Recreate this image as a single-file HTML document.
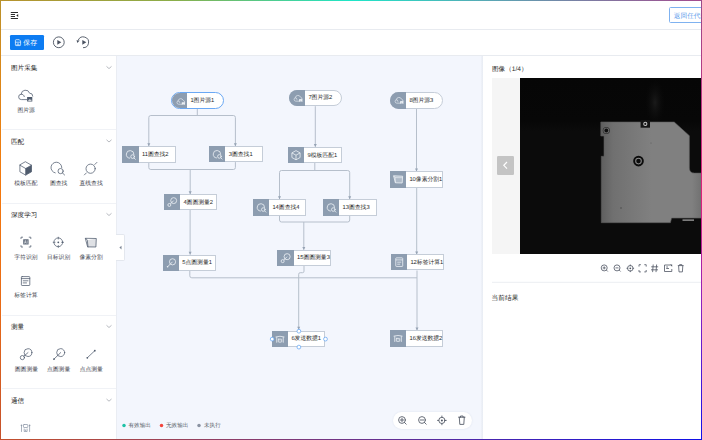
<!DOCTYPE html>
<html><head><meta charset="utf-8">
<style>
*{margin:0;padding:0;box-sizing:border-box}
html,body{width:702px;height:440px;overflow:hidden;background:#fff}
body{position:relative;font-family:"Liberation Sans",sans-serif;color:#333;text-rendering:geometricPrecision}
.a{position:absolute}
.t{position:absolute;white-space:nowrap;line-height:1}
svg{position:absolute;overflow:visible}
.bt{left:0;top:0;width:702px;height:1px;background:linear-gradient(90deg,#b8922c 0%,#8aae4a 25%,#1ee6c8 50%,#5aa6b4 70%,#a44a8e 100%)}
.bb{left:0;top:439px;width:702px;height:1px;background:linear-gradient(90deg,#c4502c 0%,#8a3c6c 35%,#5a2c9c 60%,#1010e8 100%)}
.bl{left:0;top:0;width:1px;height:440px;background:linear-gradient(180deg,#b8922c 0%,#d48a1c 12%,#f57a0c 40%,#e86a16 70%,#c4502c 100%)}
.br{left:701px;top:0;width:1px;height:440px;background:linear-gradient(180deg,#9a4a8a 0%,#e0207a 45%,#8a20c0 70%,#1010e8 100%)}
.hline{height:1px;background:#e8ebf0}
.sec{font-size:6.6px;color:#222}
.lbl{font-size:5.8px;color:#3c424c}
.chev{width:4px;height:4px;border-right:0.8px solid #8a8f99;border-bottom:0.8px solid #8a8f99;transform:rotate(45deg)}
.node{position:absolute;height:16.5px;background:#fff;border:1px solid #c5cdd8}
.node .ic{position:absolute;left:-1px;top:-1px;bottom:-1px;width:16.5px;background:#8d9db0}
.node .tx{position:absolute;left:20px;top:0.8px;line-height:14.5px;font-size:5.8px;color:#1f1f1f;white-space:nowrap;}
.pill{border-radius:9px}
.pill .ic{border-radius:9px 0 0 9px}
.sel{border-color:#6aa8f4}
.sel .ic{left:0;top:0;bottom:0}
.node .ic svg{position:absolute}
</style></head><body>
<!-- header -->
<div class="a hline" style="left:0;top:29px;width:702px"></div>
<div class="a hline" style="left:0;top:55px;width:702px"></div>
<!-- sidebar -->
<div class="a" style="left:0;top:56px;width:116px;height:384px;background:#fff"></div>
<!-- canvas -->
<div class="a" style="left:116px;top:56px;width:367px;height:384px;background:#f3f6fd"></div>
<div class="a" style="left:116px;top:56px;width:1px;height:384px;background:#eaedf3"></div>
<div class="a" style="left:481px;top:56px;width:2px;height:384px;background:linear-gradient(90deg,#eff2f9,#e8ecf3)"></div>
<!-- right panel -->
<div class="a" style="left:483px;top:56px;width:219px;height:384px;background:#fff"></div>



<!-- sidebar content -->
<div class="t sec" style="left:11px;top:66.0px">图片采集</div>
<div class="t sec" style="left:11px;top:140.0px">匹配</div>
<div class="t sec" style="left:11px;top:212.8px">深度学习</div>
<div class="t sec" style="left:11px;top:324.8px">测量</div>
<div class="t sec" style="left:11px;top:398.5px">通信</div>
<svg class="a" style="left:0;top:0" width="120" height="440">
 <g fill="none" stroke="#8f949d" stroke-width="0.65">
  <path d="M106.5 66.4 L109 68.6 L111.5 66.4"/>
  <path d="M106.5 139.8 L109 142.0 L111.5 139.8"/>
  <path d="M106.5 213.3 L109 215.5 L111.5 213.3"/>
  <path d="M106.5 325.3 L109 327.5 L111.5 325.3"/>
  <path d="M106.5 399.0 L109 401.2 L111.5 399.0"/>
 </g>
 <g stroke="#f0f2f6" stroke-width="1">
  <line x1="2" y1="129.5" x2="116" y2="129.5"/>
  <line x1="2" y1="203.5" x2="116" y2="203.5"/>
  <line x1="2" y1="315.5" x2="116" y2="315.5"/>
  <line x1="2" y1="388.5" x2="116" y2="388.5"/>
 </g>
</svg>
<div class="t lbl" style="left:17.5px;top:108.6px">图片源</div>
<div class="t lbl" style="left:14.3px;top:181.8px">模板匹配</div>
<div class="t lbl" style="left:50px;top:181.8px">圆查找</div>
<div class="t lbl" style="left:79.5px;top:181.8px">直线查找</div>
<div class="t lbl" style="left:14.3px;top:256.0px">字符识别</div>
<div class="t lbl" style="left:47px;top:256.0px">目标识别</div>
<div class="t lbl" style="left:79.5px;top:256.0px">像素分割</div>
<div class="t lbl" style="left:14.3px;top:294.2px">标签计算</div>
<div class="t lbl" style="left:14.8px;top:367.5px">圆圆测量</div>
<div class="t lbl" style="left:47px;top:367.5px">点圆测量</div>
<div class="t lbl" style="left:79.7px;top:367.5px">点点测量</div>


<!-- sidebar icons -->
<svg class="a" style="left:0;top:0" width="120" height="440">
 <g fill="none" stroke="#4f5b6d" stroke-width="0.75" stroke-linejoin="round" stroke-linecap="round">
  <!-- cloud -->
  <path d="M26.8 99.6 H21.5 A2.7 2.7 0 0 1 21.2 94.2 A4.3 4.3 0 0 1 29.6 93.2 A3 3 0 0 1 32.8 96.2"/>
  <path d="M21.2 94.2 A2.6 2.6 0 0 1 24.3 96.6"/>
  <!-- cube -->
  <path d="M25.7 161.9 L31.5 165.2 L31.5 171.8 L25.7 175.1 L19.9 171.8 L19.9 165.2 Z"/>
  <path d="M19.9 165.2 L25.7 168.5 L31.5 165.2 M25.7 168.5 L25.7 175.1"/>
  <!-- circle find -->
  <path d="M55.2 172.9 A5.4 5.4 0 1 1 61.8 167.6"/>
  <circle cx="60.6" cy="171.1" r="2.6"/>
  <line x1="62.4" y1="172.9" x2="64.6" y2="175"/>
  <!-- line find -->
  <circle cx="90.6" cy="168.7" r="4.6"/>
  <line x1="84.4" y1="174.9" x2="86.4" y2="172.9"/>
  <line x1="94.8" y1="164.5" x2="96.9" y2="162.4"/>
  <!-- 字符识别 -->
  <path d="M21 238.6 V237.2 H22.6 M29.2 237.2 H30.8 V238.6 M30.8 245.6 V247 H29.2 M22.6 247 H21 V245.6"/>
  <!-- 目标识别 -->
  <circle cx="58.3" cy="242.3" r="4.4"/>
  <line x1="58.3" y1="237.2" x2="58.3" y2="239"/>
  <line x1="58.3" y1="245.6" x2="58.3" y2="247.4"/>
  <line x1="53.2" y1="242.3" x2="55" y2="242.3"/>
  <line x1="61.6" y1="242.3" x2="63.4" y2="242.3"/>
  <!-- 像素分割 -->
  <path d="M85.7 238.3 L96.3 238.5 L95.9 247 L88 246.9 Z M85.7 238.3 L87.3 240.2 L88 246.9"/>
  <!-- 标签计算 -->
  <rect x="21.4" y="276.6" width="8.4" height="8.9" rx="0.7"/>
  <line x1="21.4" y1="278.6" x2="29.8" y2="278.6"/>
  <line x1="23.2" y1="280.8" x2="28" y2="280.8"/>
  <line x1="23.2" y1="282.9" x2="26.5" y2="282.9"/>
  <!-- 圆圆测量 -->
  <circle cx="28" cy="352.6" r="3.9"/>
  <circle cx="22.4" cy="357.6" r="2.1"/>
  <line x1="23.8" y1="356.2" x2="28" y2="352.6"/>
  <!-- 点圆测量 -->
  <circle cx="60.7" cy="352.6" r="4"/>
  <line x1="54" y1="359.1" x2="60.7" y2="352.6"/>
  <!-- 点点测量 -->
  <line x1="87.3" y1="357.8" x2="94.8" y2="350.7"/>
 </g>
 <g fill="#4f5b6d">
  <rect x="27.1" y="96.9" width="5.2" height="4.7" rx="0.3"/>
  <path d="M25.7 168.5 L31.5 165.2 L31.5 171.8 L25.7 175.1 Z"/>
  <rect x="23.2" y="239.3" width="5.4" height="5.2" rx="0.3" fill-opacity="0.9"/>
  <path d="M24.4 243.6 L25.3 240.4 L26.2 243.6 M24.8 242.5 H25.9 M27.2 240.4 V243.6" stroke="#fff" stroke-width="0.5" fill="none"/>
  <path d="M87.3 240.2 L96.3 238.5 L95.9 247 L88 246.9 Z" fill-opacity="0.18"/>
  <circle cx="58.3" cy="242.3" r="0.9"/>
  <circle cx="54" cy="359.1" r="0.9"/>
  <circle cx="87.3" cy="357.8" r="0.9"/>
  <circle cx="94.8" cy="350.7" r="0.9"/>
 </g>
 <g fill="#fff">
  <path d="M28 100.8 L29.3 99.2 L30.2 100 L31 99.3 L31.6 100.8 Z"/>
 </g>
 <!-- 通信 icon -->
 <g fill="none" stroke="#8e98a8" stroke-width="0.75" stroke-linecap="round">
  <path d="M21.5 425.6 V431.5 M29.6 425.6 V431.5"/>
  <rect x="23.5" y="424.5" width="4.3" height="3" rx="0.6"/>
  <path d="M24.2 429 V431.5 H27.1 V429"/>
 </g>
 <g fill="#8e98a8"><circle cx="21.5" cy="425.4" r="0.8"/><circle cx="29.6" cy="425.4" r="0.8"/><circle cx="25.6" cy="430.2" r="0.6"/></g>
</svg>


<svg width="0" height="0" style="position:absolute">
 <defs>
  <symbol id="i-cloud" viewBox="0 0 16 16">
   <g fill="none" stroke="#e4e9ef" stroke-width="0.7" stroke-linecap="round">
    <path d="M9.9 10.9 H6.7 A1.75 1.75 0 0 1 6.3 7.5 A2.7 2.7 0 0 1 11.5 6.9 A1.9 1.9 0 0 1 13.1 8.8"/>
    <path d="M6.3 7.5 A1.6 1.6 0 0 1 8 9.1"/>
   </g>
   <rect x="10.1" y="8.9" width="3.3" height="2.7" fill="#eef2f6"/>
   <path d="M10.5 11.3 L11.4 10.3 L12.1 10.9 L12.6 10.4 L13 11.3 Z" fill="#8d9db0"/>
  </symbol>
  <symbol id="i-cfind" viewBox="0 0 16 16">
   <g fill="none" stroke="#eef2f6" stroke-width="0.8" stroke-linecap="round">
    <path d="M7.4 11.8 A3.7 3.7 0 1 1 11.6 8.2"/>
    <circle cx="10.3" cy="10.3" r="1.8"/>
    <line x1="11.6" y1="11.6" x2="12.9" y2="12.9"/>
   </g>
  </symbol>
  <symbol id="i-cube" viewBox="0 0 16 16">
   <g fill="none" stroke="#eef2f6" stroke-width="0.8" stroke-linejoin="round">
    <path d="M8 3.6 L12.1 5.9 L12.1 10.5 L8 12.8 L3.9 10.5 L3.9 5.9 Z"/>
    <path d="M3.9 5.9 L8 8.2 L12.1 5.9 M8 8.2 L8 12.8"/>
   </g>
  </symbol>
  <symbol id="i-seg" viewBox="0 0 16 16">
   <path d="M3.6 4.6 L12.6 5 L12.2 11.8 L5.4 11.6 Z" fill="#eef2f6" fill-opacity="0.35" stroke="#eef2f6" stroke-width="0.8" stroke-linejoin="round"/>
   <path d="M3.6 4.6 L5.2 6.4 L5.4 11.6 M5.2 6.4 L12.5 6.5" fill="none" stroke="#eef2f6" stroke-width="0.6"/>
  </symbol>
  <symbol id="i-cc" viewBox="0 0 16 16">
   <g fill="none" stroke="#eef2f6" stroke-width="0.8">
    <circle cx="9.8" cy="6.6" r="3"/>
    <circle cx="5.4" cy="11" r="1.5"/>
    <line x1="6.5" y1="9.9" x2="9.8" y2="6.6"/>
   </g>
  </symbol>
  <symbol id="i-pc" viewBox="0 0 16 16">
   <g fill="none" stroke="#eef2f6" stroke-width="0.8">
    <circle cx="9.6" cy="6.7" r="3.1"/>
    <line x1="4.6" y1="11.7" x2="9.6" y2="6.7"/>
   </g>
   <circle cx="4.6" cy="11.7" r="0.8" fill="#eef2f6"/>
  </symbol>
  <symbol id="i-doc" viewBox="0 0 16 16">
   <g fill="none" stroke="#eef2f6" stroke-width="0.8">
    <rect x="4.6" y="3.8" width="6.8" height="8.4" rx="0.6"/>
    <line x1="4.6" y1="5.8" x2="11.4" y2="5.8"/>
    <line x1="6" y1="8" x2="10" y2="8"/>
    <line x1="6" y1="10" x2="9" y2="10"/>
   </g>
  </symbol>
  <symbol id="i-send" viewBox="0 0 16 16">
   <g fill="none" stroke="#eef2f6" stroke-width="0.8" stroke-linecap="round">
    <path d="M4.8 6.4 V11.4 M11.4 6.4 V11.4 M4 5.9 Q8.1 4.6 12.2 5.9"/>
    <rect x="6.4" y="8.2" width="3.4" height="3" rx="0.4"/>
   </g>
   <circle cx="8.1" cy="9.7" r="0.5" fill="#eef2f6"/>
  </symbol>
 </defs>
</svg>

<!-- edges -->
<svg class="a" style="left:0;top:0" width="702" height="440">
 <g fill="none" stroke="#b6bfcb" stroke-width="1">
  <path d="M197.3 109 V115.5 M148.8 146 V117.5 Q148.8 115.5 150.8 115.5 H233.4 Q235.4 115.5 235.4 117.5 V146"/>
  <path d="M148.8 162.7 V167.5 Q148.8 169.5 150.8 169.5 H233.4 Q235.4 169.5 235.4 167.5 V162.1 M190.2 169.5 V194"/>
  <path d="M190.1 210 V254.5"/>
  <path d="M189.8 270.7 V275.8 Q189.8 277.8 191.8 277.8 H417"/>
  <path d="M315.3 106.2 V146.8"/>
  <path d="M314.8 162.8 V170.5 M279.5 199 V172.5 Q279.5 170.5 281.5 170.5 H347.7 Q349.7 170.5 349.7 172.5 V199"/>
  <path d="M279.5 215.5 V220 Q279.5 222 281.5 222 H347.7 Q349.7 222 349.7 220 V215.5 M303.8 222 V249.7"/>
  <path d="M304 266 V271.2 Q304 272.7 302.5 272.7 H300.2 Q298.7 272.7 298.7 274.2 V331"/>
  <path d="M416.5 108.5 V171.2 M416.7 187.6 V254.2 M417 270.5 V330.3"/>
 </g>
 <g fill="#96a3b4">
  <path d="M147.3 143.2 H150.3 L148.8 146.2 Z"/>
  <path d="M233.9 143.2 H236.9 L235.4 146.2 Z"/>
  <path d="M188.7 191.2 H191.7 L190.2 194.2 Z"/>
  <path d="M188.6 251.7 H191.6 L190.1 254.7 Z"/>
  <path d="M313.8 144 H316.8 L315.3 147 Z"/>
  <path d="M278 196.2 H281 L279.5 199.2 Z"/>
  <path d="M348.2 196.2 H351.2 L349.7 199.2 Z"/>
  <path d="M302.3 246.9 H305.3 L303.8 249.9 Z"/>
  <path d="M297.2 326.8 H300.2 L298.7 329.8 Z"/>
  <path d="M415 168.4 H418 L416.5 171.4 Z"/>
  <path d="M415.2 251.4 H418.2 L416.7 254.4 Z"/>
  <path d="M415.5 327.5 H418.5 L417 330.5 Z"/>
 </g>
</svg>
<!-- nodes -->
<div class="node pill sel" style="left:170.5px;top:92.2px;width:53.7px;height:16.8px"><div class="ic" style="width:15.5px"><svg width="15.5" height="16.8" viewBox="0 0 16 16" preserveAspectRatio="xMidYMid meet" style="left:0;top:0"><use href="#i-cloud"/></svg></div><div class="tx" style="left:18.9px;line-height:14.8px">1图片源1</div></div>
<div class="node pill" style="left:289px;top:89.7px;width:53px;height:16.5px"><div class="ic" style="width:16px"><svg width="16" height="16.5" viewBox="0 0 16 16" preserveAspectRatio="xMidYMid meet" style="left:0;top:0"><use href="#i-cloud"/></svg></div><div class="tx" style="left:18.4px;line-height:14.5px">7图片源2</div></div>
<div class="node pill" style="left:390px;top:92px;width:53.2px;height:16.5px"><div class="ic" style="width:16px"><svg width="16" height="16.5" viewBox="0 0 16 16" preserveAspectRatio="xMidYMid meet" style="left:0;top:0"><use href="#i-cloud"/></svg></div><div class="tx" style="left:18.4px;line-height:14.5px">8图片源3</div></div>
<div class="node" style="left:122px;top:146.2px;width:53.8px;height:16.5px"><div class="ic" style="width:16.5px"><svg width="16.5" height="16.5" viewBox="0 0 16 16" preserveAspectRatio="xMidYMid meet" style="left:0;top:0"><use href="#i-cfind"/></svg></div><div class="tx" style="left:18.9px;line-height:14.5px">11圆查找2</div></div>
<div class="node" style="left:209.2px;top:146.2px;width:53.4px;height:16.2px"><div class="ic" style="width:16.2px"><svg width="16.2" height="16.2" viewBox="0 0 16 16" preserveAspectRatio="xMidYMid meet" style="left:0;top:0"><use href="#i-cfind"/></svg></div><div class="tx" style="left:18.6px;line-height:14.2px">3圆查找1</div></div>
<div class="node" style="left:288.2px;top:146.8px;width:53.7px;height:16px"><div class="ic" style="width:16px"><svg width="16" height="16" viewBox="0 0 16 16" preserveAspectRatio="xMidYMid meet" style="left:0;top:0"><use href="#i-cube"/></svg></div><div class="tx" style="left:18.4px;line-height:14px">9模板匹配1</div></div>
<div class="node" style="left:390px;top:171.2px;width:53px;height:16.4px"><div class="ic" style="width:16px"><svg width="16" height="16.4" viewBox="0 0 16 16" preserveAspectRatio="xMidYMid meet" style="left:0;top:0"><use href="#i-seg"/></svg></div><div class="tx" style="left:18.4px;line-height:14.399999999999999px">10像素分割1</div></div>
<div class="node" style="left:164.2px;top:194.2px;width:53.1px;height:16px"><div class="ic" style="width:15.8px"><svg width="15.8" height="16" viewBox="0 0 16 16" preserveAspectRatio="xMidYMid meet" style="left:0;top:0"><use href="#i-cc"/></svg></div><div class="tx" style="left:18.2px;line-height:14px">4圆圆测量2</div></div>
<div class="node" style="left:253px;top:199px;width:52.8px;height:16.5px"><div class="ic" style="width:16px"><svg width="16" height="16.5" viewBox="0 0 16 16" preserveAspectRatio="xMidYMid meet" style="left:0;top:0"><use href="#i-cfind"/></svg></div><div class="tx" style="left:18.4px;line-height:14.5px">14圆查找4</div></div>
<div class="node" style="left:323.2px;top:199px;width:53.4px;height:16.5px"><div class="ic" style="width:16px"><svg width="16" height="16.5" viewBox="0 0 16 16" preserveAspectRatio="xMidYMid meet" style="left:0;top:0"><use href="#i-cfind"/></svg></div><div class="tx" style="left:18.4px;line-height:14.5px">13圆查找3</div></div>
<div class="node" style="left:277px;top:249.7px;width:53.6px;height:16.2px"><div class="ic" style="width:16.6px"><svg width="16.6" height="16.2" viewBox="0 0 16 16" preserveAspectRatio="xMidYMid meet" style="left:0;top:0"><use href="#i-cc"/></svg></div><div class="tx" style="left:19.0px;line-height:14.2px">15圆圆测量3</div></div>
<div class="node" style="left:390.5px;top:254.2px;width:53.1px;height:16.3px"><div class="ic" style="width:16.5px"><svg width="16.5" height="16.3" viewBox="0 0 16 16" preserveAspectRatio="xMidYMid meet" style="left:0;top:0"><use href="#i-doc"/></svg></div><div class="tx" style="left:18.9px;line-height:14.3px">12标签计算1</div></div>
<div class="node" style="left:163px;top:254.5px;width:53px;height:16.2px"><div class="ic" style="width:15.9px"><svg width="15.9" height="16.2" viewBox="0 0 16 16" preserveAspectRatio="xMidYMid meet" style="left:0;top:0"><use href="#i-pc"/></svg></div><div class="tx" style="left:18.3px;line-height:14.2px">5点圆测量1</div></div>
<div class="node" style="left:272.2px;top:331.2px;width:53.3px;height:15.9px"><div class="ic" style="width:15.8px"><svg width="15.8" height="15.9" viewBox="0 0 16 16" preserveAspectRatio="xMidYMid meet" style="left:0;top:0"><use href="#i-send"/></svg></div><div class="tx" style="left:18.2px;line-height:13.9px">6发送数据1</div></div>
<div class="node" style="left:390.2px;top:330.3px;width:52.8px;height:16.3px"><div class="ic" style="width:15.9px"><svg width="15.9" height="16.3" viewBox="0 0 16 16" preserveAspectRatio="xMidYMid meet" style="left:0;top:0"><use href="#i-send"/></svg></div><div class="tx" style="left:18.3px;line-height:14.3px">16发送数据2</div></div>

<!-- canvas extras -->
<div class="a" style="left:116px;top:234px;width:8.6px;height:27.2px;background:#fff;border:0.6px solid #e3e7ee;border-left:none;border-radius:0 2px 2px 0"></div>
<svg class="a" style="left:0;top:0" width="702" height="440">
 <path d="M121.5 245.8 L119.4 247.6 L121.5 249.4 Z" fill="#7a8494"/>
 <!-- handles node 6 -->
 <g fill="#fff" stroke="#5aa0f4" stroke-width="0.7">
  <circle cx="298.9" cy="331.2" r="1.9"/>
  <circle cx="298.9" cy="347.1" r="1.9"/>
  <circle cx="272.2" cy="339.1" r="1.9"/>
  <circle cx="325.5" cy="339.1" r="1.9"/>
 </g>
 <!-- legend dots -->
 <circle cx="124" cy="425.5" r="1.75" fill="#1ec2a6"/>
 <circle cx="161.5" cy="425.5" r="1.75" fill="#f2443c"/>
 <circle cx="199" cy="425.5" r="1.75" fill="#8a93a2"/>
</svg>
<div class="t" style="left:128.5px;top:423.7px;font-size:5.6px;color:#555c66">有效输出</div>
<div class="t" style="left:166px;top:423.7px;font-size:5.6px;color:#555c66">无效输出</div>
<div class="t" style="left:204px;top:423.7px;font-size:5.6px;color:#555c66">未执行</div>
<div class="a" style="left:393px;top:411.8px;width:78.7px;height:17.2px;background:#fff;border-radius:8.6px;box-shadow:0 0 2px rgba(60,80,120,0.12)"></div>
<svg class="a" style="left:0;top:0" width="702" height="440">
 <g fill="none" stroke="#4f5663" stroke-width="0.85" stroke-linecap="round">
  <circle cx="402" cy="420" r="3.4"/><line x1="404.5" y1="422.5" x2="406.2" y2="424.2"/><path d="M400.3 420 H403.7 M402 418.3 V421.7"/>
  <circle cx="422" cy="420" r="3.4"/><line x1="424.5" y1="422.5" x2="426.2" y2="424.2"/><path d="M420.3 420 H423.7"/>
  <circle cx="441.9" cy="420.4" r="3.1"/><path d="M441.9 416 V417.3 M441.9 423.5 V424.8 M437.5 420.4 H438.8 M445 420.4 H446.3"/>
  <path d="M458.6 417.2 H465 M460.5 417.2 V416 H463.1 V417.2 M459.3 417.2 L459.8 424.4 H463.8 L464.3 417.2"/>
 </g>
 <circle cx="441.9" cy="420.4" r="1" fill="#4f5663"/>
</svg>


<!-- right panel content -->
<div class="t" style="left:492px;top:67px;font-size:6.6px;color:#2a2a2a">图像（1/4）</div>
<div class="a" style="left:492px;top:77.5px;width:210px;height:176px;background:#f5f5f5"></div>
<div class="a" style="left:520px;top:77.5px;width:182px;height:176px;background:#0b0b0b;overflow:hidden">
 <svg width="182" height="176" viewBox="520 77.5 182 176" style="left:0;top:0">
  <defs>
   <linearGradient id="pg" x1="0" y1="0" x2="1" y2="0">
    <stop offset="0" stop-color="#5e5e5e"/>
    <stop offset="0.12" stop-color="#707070"/>
    <stop offset="0.5" stop-color="#808080"/>
    <stop offset="0.9" stop-color="#808080"/>
    <stop offset="1" stop-color="#707070"/>
   </linearGradient>
   <radialGradient id="glow"><stop offset="0" stop-color="#1a1a1a"/><stop offset="1" stop-color="#0a0a0a" stop-opacity="0"/></radialGradient>
   <linearGradient id="bg1" x1="0" y1="0" x2="0" y2="1">
    <stop offset="0" stop-color="#060606"/>
    <stop offset="0.25" stop-color="#070707"/>
    <stop offset="0.3" stop-color="#0b0b0b"/>
    <stop offset="1" stop-color="#0b0b0b"/>
   </linearGradient>
  </defs>
  <rect x="520" y="77.5" width="182" height="176" fill="url(#bg1)"/>
  <ellipse cx="655" cy="102" rx="10" ry="24" fill="url(#glow)"/>
  <path d="M600.8 121.5 H674.2 L689.4 135.2 V167.5 Q689.4 172.6 694.5 172.6 H702 V217.6 H671.6 L670.4 222.2 H601.3 V155.8 H604 V135.5 H600.8 Z" fill="url(#pg)" stroke="#5a5a5a" stroke-width="0.6"/>
  <rect x="640.6" y="119.6" width="9.4" height="7.6" fill="#141414"/>
  <circle cx="645.3" cy="123.4" r="2.1" fill="#c8c8c8"/>
  <circle cx="645.3" cy="123.4" r="1.1" fill="#1a1a1a"/>
  <circle cx="606.3" cy="130" r="3.6" fill="#333"/>
  <circle cx="606.3" cy="130" r="2.8" fill="#6e6e6e"/>
  <circle cx="606.3" cy="130" r="1.9" fill="#0e0e0e"/>
  <circle cx="638.5" cy="160.6" r="5.3" fill="#0c0c0c"/>
  <circle cx="638.5" cy="160.6" r="3.3" fill="#8a8a8a"/>
  <circle cx="638.5" cy="160.6" r="2.3" fill="#0c0c0c"/>
  <circle cx="621" cy="207.5" r="0.7" fill="#444"/>
  <circle cx="651" cy="142.5" r="0.5" fill="#555"/>
  <path d="M682.5 219.6 H694" stroke="#bbb" stroke-width="1.1" fill="none"/>
 </svg>
</div>
<div class="a" style="left:496.8px;top:156px;width:17px;height:18.7px;background:#c4c4c4;border-radius:1.2px"></div>
<svg class="a" style="left:0;top:0" width="702" height="440">
 <path d="M507 162 L503.8 165.3 L507 168.6" fill="none" stroke="#fff" stroke-width="1.2"/>
</svg>
<svg class="a" style="left:0;top:0" width="702" height="440">
 <g fill="none" stroke="#4f5663" stroke-width="0.8">
  <circle cx="604.2" cy="267.9" r="3"/><line x1="606.4" y1="270.1" x2="607.8" y2="271.5"/><path d="M602.7 267.9 H605.7 M604.2 266.4 V269.4"/>
  <circle cx="617" cy="267.9" r="3"/><line x1="619.2" y1="270.1" x2="620.6" y2="271.5"/><path d="M615.5 267.9 H618.5"/>
  <circle cx="630.3" cy="268.3" r="2.8"/><path d="M630.3 264.5 V266.3 M630.3 270.3 V272.1 M626.5 268.3 H628.3 M632.3 268.3 H634.1"/>
  <path d="M639 266.6 V264.7 H640.9 M644.3 264.7 H646.2 V266.6 M646.2 270 V271.9 H644.3 M640.9 271.9 H639 V270"/>
  <path d="M653.2 264.5 L652.6 272.1 M656.6 264.5 L656 272.1 M651.2 266.8 H658.2 M651 269.8 H658"/>
  <path d="M670.5 265 H664.5 V271.5 H671.8 V269 M666.2 268.5 H669 M666.2 267 H668"/>
  <path d="M677.8 265.6 H683.6 M679.6 265.6 V264.6 H681.8 V265.6 M678.6 265.6 L679 271.9 H682.4 L682.8 265.6"/>
 </g>
 <g fill="#4f5663"><circle cx="630.3" cy="268.3" r="0.9"/><path d="M669.8 264.4 H672.2 V266.8 Z"/></g>
 <line x1="492" y1="282.3" x2="702" y2="282.3" stroke="#eceef2" stroke-width="1"/>
</svg>
<div class="t" style="left:491.6px;top:295.5px;font-size:6.7px;color:#2a2a2a">当前结果</div>

<!-- header content -->
<svg class="a" style="left:0;top:0" width="30" height="30" viewBox="0 0 30 30">
 <g stroke="#222" stroke-width="0.95" stroke-linecap="butt">
  <line x1="10.8" y1="12.5" x2="18" y2="12.5"/>
  <line x1="10.8" y1="14.5" x2="15" y2="14.5"/>
  <line x1="10.8" y1="16.5" x2="15" y2="16.5"/>
  <line x1="10.8" y1="18.5" x2="18" y2="18.5"/>
 </g>
 <path d="M18.2 13.9 L16.3 15.5 L18.2 17.1 Z" fill="#222"/>
</svg>
<div class="a" style="left:668.5px;top:7px;width:60px;height:16px;border:1px solid #7fb2f0;border-radius:1.5px;background:#fff"></div>
<div class="t" style="left:673.8px;top:13.8px;font-size:6.7px;color:#5b9ceb">返回任代码</div>
<!-- toolbar -->
<div class="a" style="left:10px;top:35px;width:34px;height:14.5px;background:#0d7cf2;border-radius:1.2px"></div>
<svg class="a" style="left:0;top:0" width="50" height="50">
 <g fill="none" stroke="#fff" stroke-width="0.7">
  <path d="M16.1 39.7 H19.3 L20.6 41 V44.9 Q20.6 45.6 19.9 45.6 H16.1 Q15.4 45.6 15.4 44.9 V40.4 Q15.4 39.7 16.1 39.7 Z"/>
  <path d="M15.4 42.2 H20.6 M17 45.6 V44 H19 V45.6"/>
 </g>
</svg>
<div class="t" style="left:23.3px;top:40.6px;font-size:6.9px;color:#fff">保存</div>
<svg class="a" style="left:0;top:0" width="100" height="55">
 <circle cx="58.8" cy="42.3" r="5.4" fill="none" stroke="#4a5260" stroke-width="0.9"/>
 <path d="M57.3 39.9 L61.3 42.3 L57.3 44.7 Z" fill="#4a5260"/>
 <path d="M78.3 40 A5.4 5.4 0 1 1 83 47.7" fill="none" stroke="#4a5260" stroke-width="0.9"/>
 <path d="M76.5 40.2 L79.6 40.6 L77.4 43 Z" fill="#4a5260"/>
 <path d="M82.3 39.9 L86.3 42.3 L82.3 44.7 Z" fill="#4a5260"/>
</svg>

<!-- frame border -->
<div class="a bt"></div><div class="a bb"></div><div class="a bl"></div><div class="a br"></div>
</body></html>
